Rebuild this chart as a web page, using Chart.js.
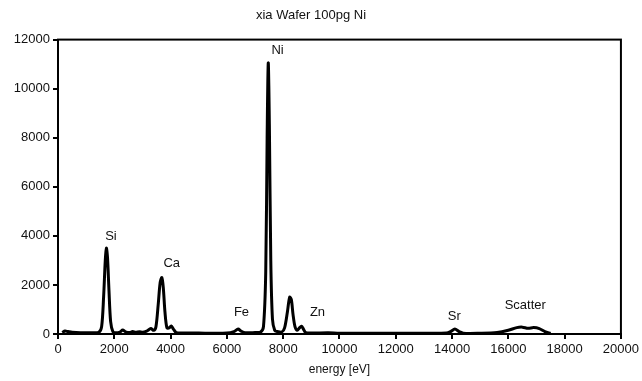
<!DOCTYPE html>
<html>
<head>
<meta charset="utf-8">
<script src="https://cdn.jsdelivr.net/npm/chart.js@4/dist/chart.umd.min.js"></script>
<style>
  body { margin: 0; background: #fff; }
  #wrap { width: 642px; height: 381px; }
</style>
</head>
<body>
<div id="wrap"><canvas id="my-chart"></canvas></div>
<script>
'use strict';

// DATA
let energy = [150, 250, 350, 500, 800, 1200, 1450, 1550, 1620, 1680, 1720, 1760, 1810, 1870, 1950, 2050,
  2200, 2300, 2400, 2550, 2650, 2750, 2900, 3000, 3150, 3300, 3400, 3480, 3560, 3630, 3690, 3740, 3800,
  3870, 3950, 4020, 4100, 4200, 4400, 5000, 5500, 6000, 6250, 6400, 6500, 6650, 7000, 7200, 7300, 7380,
  7430, 7470, 7510, 7560, 7620, 7700, 7800, 7950, 8050, 8150, 8230, 8290, 8350, 8420, 8500, 8580, 8650,
  8720, 8800, 9000, 9600, 10000, 11000, 12000, 13000, 13800, 13950, 14100, 14250, 14400, 15000, 15600,
  16000, 16300, 16500, 16700, 16900, 17100, 17300, 17500];
let counts = [60, 120, 100, 70, 50, 50, 70, 300, 1500, 3000, 3500, 3100, 1800, 500, 100, 50,
  80, 160, 90, 60, 100, 70, 90, 70, 120, 220, 150, 300, 1200, 2100, 2300, 1900, 900,
  250, 250, 330, 200, 60, 40, 40, 30, 40, 100, 200, 120, 50, 60, 80, 300, 2500,
  8000, 11050, 8500, 3000, 600, 150, 100, 80, 250, 900, 1500, 1400, 800, 300, 150, 250, 320,
  200, 60, 40, 50, 30, 30, 30, 30, 40, 100, 200, 100, 30, 30, 60,
  150, 260, 280, 230, 260, 220, 100, 20];

let peakNames = ['Si', 'Ca', 'Fe', 'Ni', 'Zn', 'Sr', 'Scatter'];
let peakEnergy = [1880, 4040, 6520, 7800, 9220, 14080, 16600];
let peakCount = [3970, 2870, 860, 11550, 860, 700, 1150];

let xTicks = [0, 2000, 4000, 6000, 8000, 10000, 12000, 14000, 16000, 18000, 20000];
let yTicks = [0, 2000, 4000, 6000, 8000, 10000, 12000];

let fontFamily = '"Liberation Sans", Arial, sans-serif';

// CANVAS
let ctx = document.getElementById('my-chart');

let points = [];
for (let i = 0; i < energy.length; i++) {
  points.push({ x: energy[i], y: counts[i] });
}

// PLUGIN: frame box + peak labels
let framePlugin = {
  id: 'frame',
  afterDraw(chart) {
    let c = chart.ctx;
    let a = chart.chartArea;
    c.save();
    c.strokeStyle = '#000';
    c.lineWidth = 2;
    c.strokeRect(a.left, a.top, a.right - a.left, a.bottom - a.top);

    c.fillStyle = '#111';
    c.font = '13px ' + fontFamily;
    c.textAlign = 'center';
    c.textBaseline = 'middle';
    let xs = chart.scales.x;
    let ys = chart.scales.y;
    for (let i = 0; i < peakNames.length; i++) {
      c.fillText(peakNames[i], xs.getPixelForValue(peakEnergy[i]), ys.getPixelForValue(peakCount[i]));
    }
    c.restore();
  }
};

let chartObj = {
  type: 'line',
  data: {
    datasets: [{
      data: points,
      borderColor: '#000',
      borderWidth: 3,
      pointRadius: 0,
      tension: 0.3,
      fill: false
    }]
  },
  options: {
    responsive: true,
    maintainAspectRatio: false,
    animation: false,
    layout: { padding: { top: 0, right: 20, left: 0, bottom: 0 } },
    plugins: {
      legend: { display: false },
      tooltip: { enabled: false },
      title: {
        display: true,
        text: 'xia Wafer 100pg Ni',
        color: '#111',
        font: { family: fontFamily, size: 13, weight: 'normal' },
        padding: { top: 8, bottom: 16 }
      }
    },
    scales: {
      x: {
        type: 'linear',
        min: 0,
        max: 20000,
        afterBuildTicks(scale) { scale.ticks = xTicks.map(v => ({ value: v })); },
        grid: { drawOnChartArea: false, drawTicks: true, tickLength: 5, color: '#000', lineWidth: 2 },
        border: { color: '#000', width: 2 },
        ticks: { color: '#111', font: { family: fontFamily, size: 13 }, maxRotation: 0, padding: 3, callback: v => String(v) },
        title: { display: true, text: 'energy [eV]', color: '#111', font: { family: fontFamily, size: 12 }, padding: { top: 2, bottom: 4 } }
      },
      y: {
        min: 0,
        max: 12000,
        afterBuildTicks(scale) { scale.ticks = yTicks.map(v => ({ value: v })); },
        afterFit(scale) { scale.width = 58; },
        grid: { drawOnChartArea: false, drawTicks: true, tickLength: 5, color: '#000', lineWidth: 2 },
        border: { color: '#000', width: 2 },
        ticks: { color: '#111', font: { family: fontFamily, size: 13 }, padding: 3, callback: v => String(v) }
      }
    }
  },
  plugins: [framePlugin]
};

new Chart(ctx, chartObj);
</script>
</body>
</html>
